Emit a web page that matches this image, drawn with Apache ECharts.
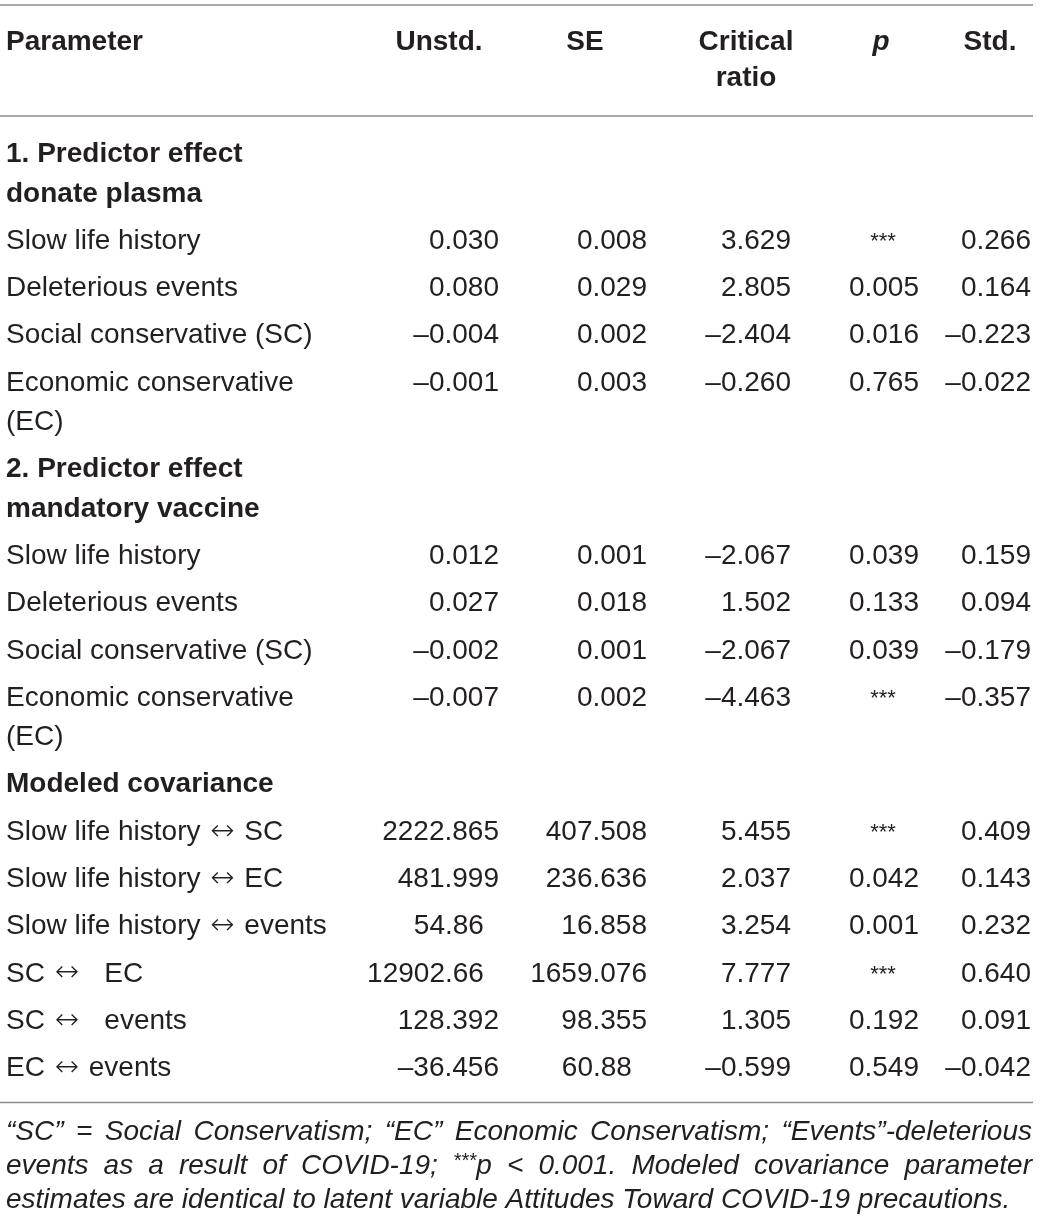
<!DOCTYPE html>
<html>
<head>
<meta charset="utf-8">
<script src="https://cdn.jsdelivr.net/npm/echarts@6/dist/echarts.min.js"></script>
<style>
  html, body { margin: 0; background: #fff; }
  #chart { width: 1040px; height: 1226px; }
</style>
</head>
<body>
<div id="chart"></div>
<script>
// ── Table content ──────────────────────────────────────────────────────

const headers = ["Parameter", "Unstd.", "SE", "Critical\nratio", "p", "Std."];

// Section rows have null in every numeric column.
const params = [
  "1. Predictor effect\ndonate plasma",
  "Slow life history",
  "Deleterious events",
  "Social conservative (SC)",
  "Economic conservative\n(EC)",
  "2. Predictor effect\nmandatory vaccine",
  "Slow life history",
  "Deleterious events",
  "Social conservative (SC)",
  "Economic conservative\n(EC)",
  "Modeled covariance",
  "Slow life history \u2194 SC",
  "Slow life history \u2194 EC",
  "Slow life history \u2194 events",
  "SC \u2194   EC",
  "SC \u2194   events",
  "EC \u2194 events",
];
const unstd = [null, "0.030", "0.080", "\u20130.004", "\u20130.001",
  null, "0.012", "0.027", "\u20130.002", "\u20130.007",
  null, "2222.865", "481.999", "54.86", "12902.66", "128.392", "\u201336.456"];
const se = [null, "0.008", "0.029", "0.002", "0.003",
  null, "0.001", "0.018", "0.001", "0.002",
  null, "407.508", "236.636", "16.858", "1659.076", "98.355", "60.88"];
const critRatio = [null, "3.629", "2.805", "\u20132.404", "\u20130.260",
  null, "\u20132.067", "1.502", "\u20132.067", "\u20134.463",
  null, "5.455", "2.037", "3.254", "7.777", "1.305", "\u20130.599"];
const pValue = [null, "***", "0.005", "0.016", "0.765",
  null, "0.039", "0.133", "0.039", "***",
  null, "***", "0.042", "0.001", "***", "0.192", "0.549"];
const stdEst = [null, "0.266", "0.164", "\u20130.223", "\u20130.022",
  null, "0.159", "0.094", "\u20130.179", "\u20130.357",
  null, "0.409", "0.143", "0.232", "0.640", "0.091", "\u20130.042"];

// Footnote lines; "{sup}" marks the superscript stars.
const footnoteLines = [
  "\u201cSC\u201d = Social Conservatism; \u201cEC\u201d Economic Conservatism; \u201cEvents\u201d-deleterious",
  "events as a result of COVID-19; {sup}p < 0.001. Modeled covariance parameter",
  "estimates are identical to latent variable Attitudes Toward COVID-19 precautions.",
];

// ── Layout / style ─────────────────────────────────────────────────────

const W = 1040, H = 1226;
const FAMILY = '"Liberation Sans", Arial, Helvetica, sans-serif';
const FS = 28;
const INK = "#231f20";
const RULE = "#8c8c8c";
const LEFT = 6, RIGHT = 1032;
const HEADER_Y = 42, HEADER_LH = 36;
const FIRST_ROW_Y = 154.5;
const ROW_H = 47.3, WRAP_H = 39.3;
const DIGIT_W = 0.54 * FS;
const STAR_FS = 22;

// Right edge for a 3-decimal number, per numeric column; header centres.
const colRight = [499, 647, 791, 919, 1031];
const starCentre = [467, 615, 759, 883, 999];
const headerCentre = [439, 585, 746, 881, 990];

const numericCols = [unstd, se, critRatio, pValue, stdEst];

// Row centre (first line) from the wrapped label heights.
let cursor = FIRST_ROW_Y;
const rowY = params.map((label) => {
  const y = cursor;
  cursor += ROW_H + (label.split("\n").length - 1) * WRAP_H;
  return y;
});
const lastRowY = rowY[rowY.length - 1];
const rules = [5, 116, lastRowY + 34];

// ── Build cells ────────────────────────────────────────────────────────

const cells = [];
function addCell(x, y, text, o = {}) {
  cells.push({
    value: [x, y],
    text: text.replace(/\u2194/g, "{arrow|\u2194}"),
    align: o.align || "right",
    font: `${o.style || "normal"} ${o.weight || "normal"} ${o.size || FS}px ${FAMILY}`,
    lh: o.lh || WRAP_H,
  });
}

addCell(LEFT, HEADER_Y, headers[0], { align: "left", weight: "bold" });
headers.slice(1).forEach((h, k) => {
  addCell(headerCentre[k], HEADER_Y, h, {
    align: "center",
    weight: "bold",
    style: h === "p" ? "italic" : "normal",
    lh: HEADER_LH,
  });
});

params.forEach((label, i) => {
  const isSection = unstd[i] === null;
  addCell(LEFT, rowY[i], label, { align: "left", weight: isSection ? "bold" : "normal" });
  numericCols.forEach((col, k) => {
    const v = col[i];
    if (v === null) return;
    if (v === "***") {
      addCell(starCentre[k], rowY[i] + 1, v, { align: "center", size: STAR_FS });
      return;
    }
    const dec = (v.split(".")[1] || "").length;
    addCell(colRight[k] - (3 - dec) * DIGIT_W, rowY[i], v);
  });
});

// ── Footnote: justified words ──────────────────────────────────────────

const measureCtx = document.createElement("canvas").getContext("2d");
function textWidth(t, font) {
  measureCtx.font = font;
  return measureCtx.measureText(t).width;
}
const FOOT_FS = 28;
const footFont = `italic normal ${FOOT_FS}px ${FAMILY}`;
const footSupFont = `italic normal 20px ${FAMILY}`;
const footY0 = rules[2] + 30, footLH = 34;

const footGraphics = [];
footnoteLines.forEach((line, li) => {
  const words = line.split(" ").map((w) => {
    const parts = w.startsWith("{sup}")
      ? [{ t: "***", font: footSupFont, dy: -5 }, { t: w.slice(5), font: footFont, dy: 0 }]
      : [{ t: w, font: footFont, dy: 0 }];
    parts.forEach((p) => (p.w = textWidth(p.t, p.font)));
    return { parts, w: parts.reduce((s, p) => s + p.w, 0) };
  });
  const total = words.reduce((s, w) => s + w.w, 0);
  const justify = li < footnoteLines.length - 1;
  const gap = justify ? (RIGHT - LEFT - total) / (words.length - 1) : textWidth(" ", footFont);
  let x = LEFT;
  const y = footY0 + li * footLH;
  words.forEach((w) => {
    let px = x;
    w.parts.forEach((p) => {
      footGraphics.push({
        type: "text",
        x: px,
        y: y + p.dy,
        style: {
          text: p.t, font: p.font, fill: INK,
          align: "left", textAlign: "left", verticalAlign: "middle", textVerticalAlign: "middle",
        },
      });
      px += p.w;
    });
    x += w.w + gap;
  });
});

const ruleGraphics = rules.map((y) => ({
  type: "line",
  shape: { x1: 0, y1: y, x2: RIGHT + 1, y2: y },
  style: { stroke: RULE, lineWidth: 1.5 },
}));

// ── Chart ──────────────────────────────────────────────────────────────

const chart = echarts.init(document.getElementById("chart"));
chart.setOption({
  animation: false,
  backgroundColor: "#fff",
  grid: { left: 0, right: 0, top: 0, bottom: 0 },
  xAxis: { type: "value", min: 0, max: W, show: false },
  yAxis: { type: "value", min: 0, max: H, inverse: true, show: false },
  graphic: [...ruleGraphics, ...footGraphics],
  series: [
    {
      type: "custom",
      coordinateSystem: "cartesian2d",
      data: cells.map((c) => c.value),
      renderItem: (params, api) => {
        const c = cells[params.dataIndex];
        const [px, py] = api.coord([api.value(0), api.value(1)]);
        return {
          type: "text",
          x: px,
          y: py - c.lh / 2,
          style: {
            text: c.text, font: c.font, fill: INK, lineHeight: c.lh,
            align: c.align, textAlign: c.align, verticalAlign: "top", textVerticalAlign: "top",
            rich: {
              arrow: { font: `normal 300 29px "DejaVu Sans", ${FAMILY}`, fill: INK, lineHeight: c.lh, padding: [0, 2, 0, 2] },
            },
          },
        };
      },
    },
  ],
});
</script>
</body>
</html>
